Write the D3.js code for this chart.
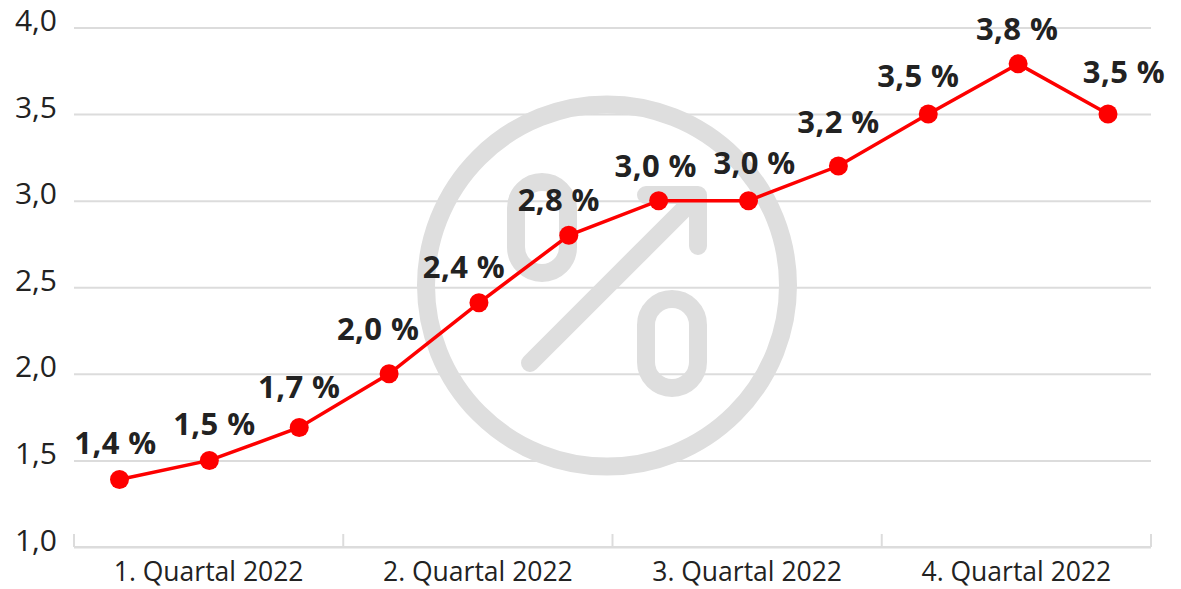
<!DOCTYPE html>
<html><head><meta charset="utf-8">
<script src="https://cdn.jsdelivr.net/npm/d3@7"></script>
<style>html,body{margin:0;background:#fff}svg{display:block}text{font-family:"Open Sans","Noto Sans",sans-serif;fill:#222}</style>
</head><body><svg id="c" width="1181" height="589"></svg>
<script>
const months = ["Jan","Feb","Mär","Apr","Mai","Jun","Jul","Aug","Sep","Okt","Nov","Dez"];
const values = [1.39,1.5,1.69,2.0,2.41,2.8,3.0,3.0,3.2,3.5,3.79,3.5];
const valueLabels = ["1,4 %","1,5 %","1,7 %","2,0 %","2,4 %","2,8 %","3,0 %","3,0 %","3,2 %","3,5 %","3,8 %","3,5 %"];
const quarters = ["1. Quartal 2022","2. Quartal 2022","3. Quartal 2022","4. Quartal 2022"];
const yTicks = [1,1.5,2,2.5,3,3.5,4];
const labelDx = [-4,5,0,-11,-15,-10,-3,6,0,-10,-1,16];
const labelDy = [-36,-36,-41,-45,-36,-35,-35,-38,-44,-38,-35,-42];

const L=74,R=1151,T=27.5,B=547;
const svg=d3.select("#c");
const x=d3.scalePoint().domain(months).range([119.5,1108]);
const xq=d3.scaleBand().domain(quarters).range([L,R]);
const y=d3.scaleLinear().domain([1,4]).range([B,T]);
const grid="#dcdcdc";

// y axis + gridlines
const ya=svg.append("g").attr("transform",`translate(${L},0)`)
 .call(d3.axisLeft(y).tickValues(yTicks).tickSize(-(R-L)).tickPadding(17).tickFormat(d=>d.toFixed(1).replace(".",",")));
ya.select(".domain").remove();
ya.selectAll("line").attr("stroke",grid).attr("stroke-width",2);
ya.selectAll("text").attr("font-size",30).attr("dy","0.1em").attr("fill","#222");

// x axis: ticks at quarter boundaries, labels centred in each quarter
const xa=svg.append("g").attr("transform",`translate(0,${B})`)
 .call(d3.axisBottom(xq).tickSize(0).tickPadding(15));
xa.select(".domain").remove();
xa.selectAll("text").attr("font-size",26.5).attr("fill","#222");
const bounds=quarters.map(q=>xq(q)).concat([R]);
xa.selectAll("line.b").data(bounds).join("line").attr("class","b")
 .attr("x1",d=>d).attr("x2",d=>d).attr("y1",-13).attr("y2",0).attr("stroke",grid).attr("stroke-width",2);
xa.append("line").attr("x1",L).attr("x2",R).attr("stroke",grid).attr("stroke-width",2);

// watermark
const wm=svg.append("g").attr("fill","none").attr("stroke","#dedede").attr("stroke-width",18).attr("stroke-linecap","round").attr("stroke-linejoin","round");
wm.append("circle").attr("cx",607).attr("cy",285.5).attr("r",181);
wm.append("rect").attr("x",516).attr("y",182).attr("width",52).attr("height",91).attr("rx",26);
wm.append("rect").attr("x",646).attr("y",299).attr("width",52).attr("height",89).attr("rx",26);
wm.append("path").attr("d","M530 363L698 195M646 195H698V246");

// series
svg.append("path").datum(values).attr("fill","none").attr("stroke","#fd0000").attr("stroke-width",3.5)
 .attr("d",d3.line().x((d,i)=>x(months[i])).y(d=>y(d)));
svg.selectAll("circle.p").data(values).join("circle").attr("class","p")
 .attr("cx",(d,i)=>x(months[i])).attr("cy",d=>y(d)).attr("r",9.5).attr("fill","#fe0000");
svg.selectAll("text.v").data(values).join("text").attr("class","v")
 .attr("x",(d,i)=>x(months[i])+labelDx[i]).attr("y",(d,i)=>y(d)+labelDy[i]+11)
 .attr("text-anchor","middle").attr("font-size",31).attr("font-weight",700).attr("letter-spacing",0.4)
 .text((d,i)=>valueLabels[i]);
</script></body></html>
